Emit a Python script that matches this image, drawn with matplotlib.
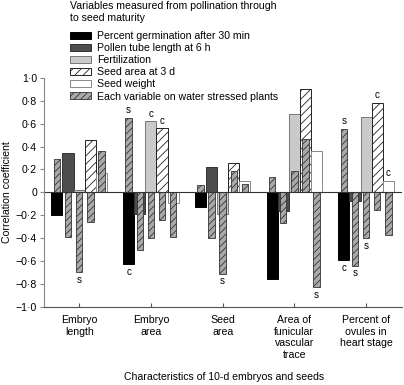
import numpy as np
import matplotlib.pyplot as plt
from matplotlib.ticker import FuncFormatter

plt.rcParams['font.family'] = ['Liberation Sans', 'DejaVu Sans']
plt.rcParams['hatch.linewidth'] = 0.6

# 10-d embryo / seed characteristics (x groups)
groups = ["Embryo\nlength", "Embryo\narea", "Seed\narea",
          "Area of\nfunicular\nvascular\ntrace", "Percent of\novules in\nheart stage"]

# variables measured from pollination to seed maturity
series = ["Percent germination after 30 min", "Pollen tube length at 6 h",
          "Fertilization", "Seed area at 3 d", "Seed weight"]
stress_label = "Each variable on water stressed plants"

# correlation coefficients, rows = groups, columns = series
normal = np.array([
    [-0.20, 0.34, 0.02, 0.46, 0.17],
    [-0.63, -0.19, 0.62, 0.56, -0.09],
    [-0.13, 0.22, -0.19, 0.26, 0.10],
    [-0.76, -0.16, 0.685, 0.90, 0.365],
    [-0.59, -0.08, 0.66, 0.78, 0.10],
])
stressed = np.array([
    [0.29, -0.39, -0.70, -0.26, 0.365],
    [0.65, -0.50, -0.40, -0.24, -0.39],
    [0.06, -0.40, -0.71, 0.19, 0.07],
    [0.13, -0.27, 0.19, 0.47, -0.83],
    [0.555, -0.64, -0.40, -0.15, -0.37],
])

# significance letters: (group, series, normal/stressed, letter)
marks = [(0, 2, 's', 's'),
         (1, 0, 'n', 'c'), (1, 0, 's', 's'), (1, 2, 'n', 'c'), (1, 3, 'n', 'c'),
         (2, 2, 's', 's'),
         (3, 4, 's', 's'),
         (4, 0, 'n', 'c'), (4, 0, 's', 's'), (4, 1, 's', 's'), (4, 2, 's', 's'),
         (4, 3, 'n', 'c'), (4, 4, 'n', 'c')]

styles = [dict(color='black', edgecolor='black'),
          dict(color='#4d4d4d', edgecolor='#333333'),
          dict(color='#cacaca', edgecolor='#777777'),
          dict(color='white', edgecolor='#222222', hatch='////'),
          dict(color='white', edgecolor='#888888')]
stress_style = dict(color='#a9a9a9', edgecolor='#333333', hatch='/////')

fs = 7.6

fig = plt.figure(figsize=(4.04, 3.85), dpi=100)
ax = fig.add_axes([44 / 404, 1 - 306.7 / 385, 358 / 404, 228.7 / 385])

x = np.arange(len(groups))
w = 0.155
ws = 0.09
handles = []
for i in range(len(series)):
    off = (i - 2) * w
    b = ax.bar(x + off, normal[:, i], w, linewidth=0.7, label=series[i], **styles[i])
    handles.append(b)
for i in range(len(series)):
    off = (i - 2) * w
    bs = ax.bar(x + off, stressed[:, i], ws, linewidth=0.6, **stress_style)
handles.append(bs)

for g, i, kind, letter in marks:
    v = normal[g, i] if kind == 'n' else stressed[g, i]
    xpos = x[g] + (i - 2) * w
    ax.annotate(letter, (xpos, v), xytext=(0, 2 if v > 0 else -2),
                textcoords='offset points', ha='center',
                va='bottom' if v > 0 else 'top', fontsize=7)

ax.axhline(0, color='#333333', lw=0.8)
ax.set_ylim(-1, 1)
ax.set_xlim(-0.49, 4.5)
ax.set_yticks(np.arange(-1.0, 1.01, 0.2))


def fmt(v, pos):
    if abs(v) < 1e-9:
        return "0"
    s = f"{abs(v):.1f}".replace('.', '\u00b7')
    return ('\u2212' if v < 0 else '') + s


ax.yaxis.set_major_formatter(FuncFormatter(fmt))
ax.set_xticks(x)
ax.set_xticklabels(groups, fontsize=fs, linespacing=1.2)
ax.tick_params(axis='y', direction='out', length=3, labelsize=fs, color='#888888', width=0.8, pad=2)
ax.tick_params(axis='x', direction='in', length=3, color='#555555', width=0.8, pad=6)
for s in ['top', 'right']:
    ax.spines[s].set_visible(False)
ax.spines['left'].set_color('#888888')
ax.spines['bottom'].set_color('#555555')
ax.spines['left'].set_linewidth(0.8)
ax.spines['bottom'].set_linewidth(0.8)

ax.set_ylabel("Correlation coefficient", fontsize=fs, labelpad=3)
fig.text(0.5 + 22 / 404, 1 - 377 / 385, "Characteristics of 10-d embryos and seeds",
         ha='center', va='center', fontsize=fs)

fig.text(70 / 404, 1 - 1 / 385, "Variables measured from pollination through\nto seed maturity",
         ha='left', va='top', fontsize=fs, linespacing=1.25)
leg = ax.legend(handles, series + [stress_label],
                loc='upper left', bbox_to_anchor=(70 / 404, 1 - 31 / 385),
                bbox_transform=fig.transFigure, frameon=False, fontsize=fs,
                handlelength=2.0, handleheight=0.6, labelspacing=0.2,
                borderpad=0, borderaxespad=0, handletextpad=0.6)

fig.savefig('out.png', dpi=100)
